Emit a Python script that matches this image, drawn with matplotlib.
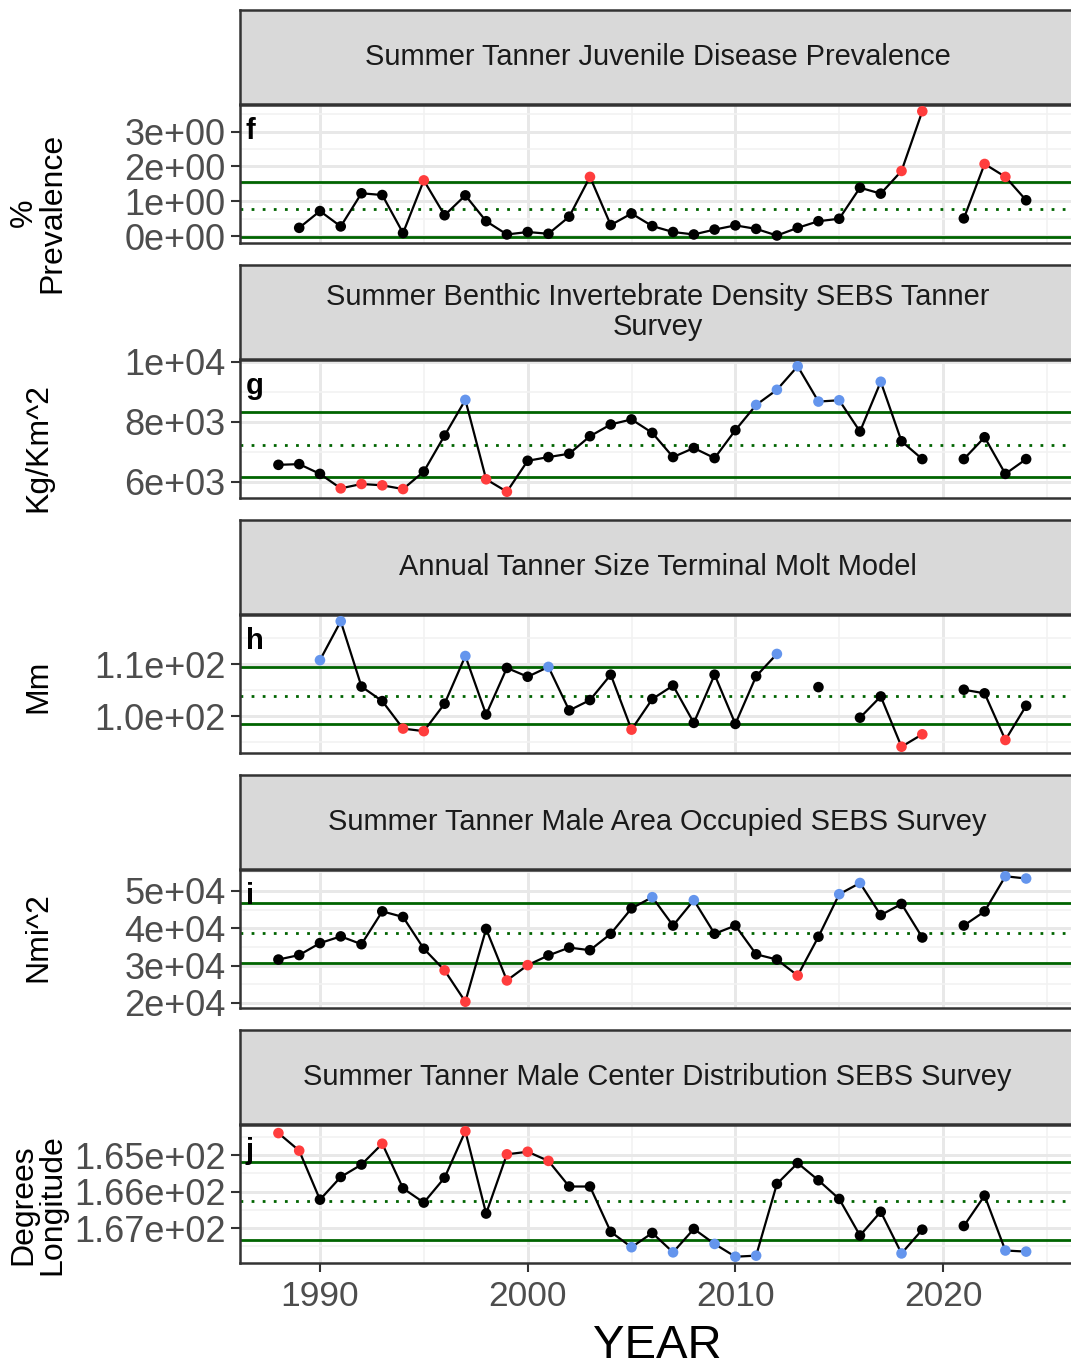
import numpy as np
import matplotlib
matplotlib.use("Agg")
import matplotlib.pyplot as plt
from matplotlib.ticker import FixedLocator, AutoMinorLocator

plt.rcParams['font.family'] = ['Liberation Sans', 'DejaVu Sans']

# ---- data (1988..2024, nan = no survey) ----
years = np.arange(1988, 2025)
nan = np.nan

prev_f = [nan, 0.24, 0.72, 0.28, 1.23, 1.18, 0.09, 1.60, 0.60, 1.17, 0.43, 0.05, 0.12, 0.07,
          0.56, 1.70, 0.32, 0.65, 0.29, 0.12, 0.05, 0.19, 0.31, 0.21, 0.02, 0.24, 0.43, 0.50,
          1.39, 1.22, 1.87, 3.58, nan, 0.51, 2.07, 1.70, 1.03]
dens_g = [6560, 6583, 6258, 5776, 5922, 5877, 5753, 6336, 7535, 8723, 6078, 5664, 6695, 6818,
          6930, 7513, 7905, 8073, 7625, 6818, 7120, 6784, 7714, 8555, 9059, 9843, 8667, 8711,
          7669, 9328, 7345, 6751, nan, 6751, 7479, 6258, 6751]
size_h = [nan, nan, 110.8, 118.3, 105.7, 102.9, 97.6, 97.1, 102.4, 111.6, 100.3, 109.3, 107.6,
          109.5, 101.1, 103.1, 108.0, 97.4, 103.3, 105.9, 98.7, 108.0, 98.5, 107.7, 112.0, nan,
          105.6, nan, 99.7, 103.8, 94.1, 96.5, nan, 105.1, 104.4, 95.4, 102.0]
area_i = [31600, 32800, 36000, 37800, 35700, 44500, 43000, 34500, 28700, 20300, 39800, 26000,
          30100, 32700, 34800, 34100, 38500, 45300, 48300, 40700, 47500, 38500, 40700, 33000,
          31600, 27300, 37700, 49100, 52100, 43500, 46500, 37500, nan, 40700, 44500, 53900, 53300]
lon_j = [164.40, 164.88, 166.22, 165.60, 165.26, 164.69, 165.91, 166.30, 165.62, 164.35, 166.60,
         164.98, 164.91, 165.16, 165.86, 165.86, 167.10, 167.52, 167.13, 167.66, 167.02, 167.43,
         167.78, 167.75, 165.79, 165.22, 165.69, 166.20, 167.20, 166.55, 167.69, 167.04, nan,
         166.94, 166.11, 167.61, 167.64]

# long-term mean and sd
means = [0.77, 7232, 103.9, 38700, 166.26]
sds = [0.785, 1092, 5.5, 8000, 1.07]

titles = ["Summer Tanner Juvenile Disease Prevalence",
          "Summer Benthic Invertebrate Density SEBS Tanner\nSurvey",
          "Annual Tanner Size Terminal Molt Model",
          "Summer Tanner Male Area Occupied SEBS Survey",
          "Summer Tanner Male Center Distribution SEBS Survey"]
ylabels = ["%\nPrevalence", "Kg/Km^2", "Mm", "Nmi^2", "Degrees\nLongitude"]
letters = ["f", "g", "h", "i", "j"]
yticks = [[0, 1, 2, 3], [6000, 8000, 10000], [100, 110],
          [20000, 30000, 40000, 50000], [165, 166, 167]]
yticklabels = [["0e+00", "1e+00", "2e+00", "3e+00"], ["6e+03", "8e+03", "1e+04"],
               ["1.0e+02", "1.1e+02"], ["2e+04", "3e+04", "4e+04", "5e+04"],
               ["1.65e+02", "1.66e+02", "1.67e+02"]]
series = [prev_f, dens_g, size_h, area_i, lon_j]

RED = "#FF3D3D"
BLUE = "#6495ED"
# colour of points above mean+sd / below mean-sd
hi_lo = [(RED, BLUE), (BLUE, RED), (BLUE, RED), (BLUE, RED), (BLUE, RED)]

# ---- layout ----
W, H = 1071, 1366
fig = plt.figure(figsize=(W / 100, H / 100), dpi=100)


def box(top, bottom, left=240, right=1075):
    return fig.add_axes([left / W, 1 - bottom / H, (right - left) / W, (bottom - top) / H])


strip_tops = [10, 265, 520, 775, 1030]
ylab_pos = [(38, 213), (38, 448), (38, 686), (38, 937), (38, 1205)]
edge = "#333333"
xlim = (1986.15, 1986.15 + 835 / 20.77)

for k in range(5):
    st = strip_tops[k]
    sax = box(st, st + 94)
    sax.set_facecolor("#D9D9D9")
    sax.set_xticks([])
    sax.set_yticks([])
    for sp in sax.spines.values():
        sp.set_color(edge)
        sp.set_linewidth(1.8)
    sax.text(0.5, 0.5, titles[k], transform=sax.transAxes, ha="center", va="center",
             fontsize=20.9, color="#1A1A1A", linespacing=1.1)

    ax = box(st + 95, st + 233)
    vals = np.array(series[k], dtype=float)
    m, s = means[k], sds[k]
    up, lo = m + s, m - s

    ax.axhline(up, color="darkgreen", lw=2, zorder=2)
    ax.axhline(lo, color="darkgreen", lw=2, zorder=2)
    ax.axhline(m, color="darkgreen", lw=2, ls=(0, (1, 3)), zorder=2)

    ax.plot(years, vals, color="black", lw=1.6, zorder=3)
    cols = []
    for v in vals:
        if v > up:
            cols.append(hi_lo[k][0])
        elif v < lo:
            cols.append(hi_lo[k][1])
        else:
            cols.append("black")
    ax.scatter(years, vals, c=cols, s=58, zorder=4, linewidths=0)

    lo_all = min(np.nanmin(vals), lo)
    hi_all = max(np.nanmax(vals), up)
    pad = (hi_all - lo_all) * 0.05
    if k == 4:
        ax.set_ylim(hi_all + pad, lo_all - pad)
    else:
        ax.set_ylim(lo_all - pad, hi_all + pad)
    ax.set_xlim(*xlim)

    ax.yaxis.set_major_locator(FixedLocator(yticks[k]))
    ax.set_yticklabels(yticklabels[k])
    ax.yaxis.set_minor_locator(AutoMinorLocator(2))
    ax.xaxis.set_major_locator(FixedLocator([1990, 2000, 2010, 2020]))
    ax.xaxis.set_minor_locator(FixedLocator([1985, 1995, 2005, 2015, 2025]))
    ax.grid(which="major", color="#E8E8E8", lw=2.1, zorder=0)
    ax.grid(which="minor", color="#F2F2F2", lw=1.2, zorder=0)
    ax.set_axisbelow(True)

    ax.tick_params(axis="y", which="major", length=6.5, width=1.5, color=edge,
                   labelsize=26, labelcolor="#4D4D4D", pad=4)
    ax.tick_params(which="minor", length=0)
    if k < 4:
        ax.tick_params(axis="x", which="both", length=0, labelbottom=False)
    else:
        ax.tick_params(axis="x", which="major", length=6.5, width=1.5, color=edge,
                       labelsize=25.5, labelcolor="#4D4D4D", pad=6)
    for sp in ax.spines.values():
        sp.set_color(edge)
        sp.set_linewidth(1.8)

    ax.text(0.007, 1 - 12 / 138, letters[k], transform=ax.transAxes, ha="left", va="top",
            fontsize=21, fontweight="bold", color="black", zorder=5)

    fig.text(ylab_pos[k][0] / W, 1 - ylab_pos[k][1] / H, ylabels[k], rotation=90,
             ha="center", va="center", fontsize=23, multialignment="center", linespacing=0.95)

fig.text(657 / W, 1 - 1346 / H, "YEAR", ha="center", va="center", fontsize=34)

fig.savefig("out.png", dpi=100)
